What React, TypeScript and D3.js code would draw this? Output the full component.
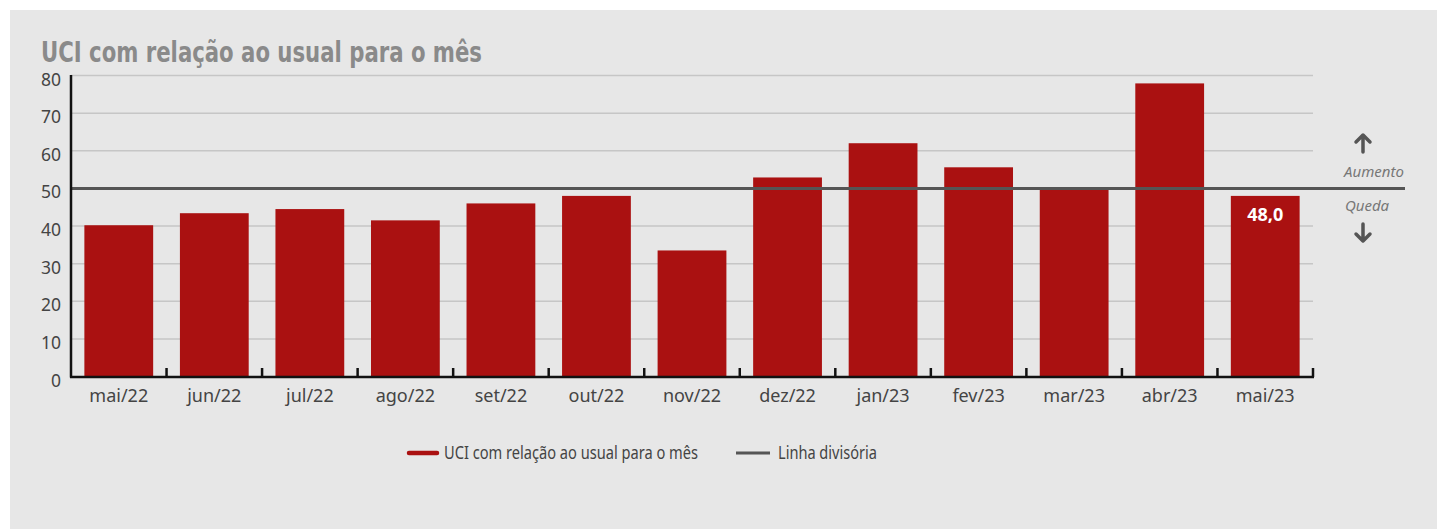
import * as d3 from "d3";

const months = [
  "mai/22", "jun/22", "jul/22", "ago/22", "set/22", "out/22", "nov/22",
  "dez/22", "jan/23", "fev/23", "mar/23", "abr/23", "mai/23",
];
const uciValues = [40.2, 43.4, 44.5, 41.5, 46.0, 48.0, 33.5, 52.9, 62.0, 55.6, 50.1, 77.9, 48.0];
const yTicks = [0, 10, 20, 30, 40, 50, 60, 70, 80];
const dividerValue = 50;

const title = "UCI com relação ao usual para o mês";
const legendItems = ["UCI com relação ao usual para o mês", "Linha divisória"];

const W = 1437;
const H = 529;
const RED = "#aa1111";
const font = "'Noto Sans', sans-serif";

const App = () => {
  const x = d3.scaleBand().domain(months).range([71, 1313]).paddingInner(0.28).paddingOuter(0.14);
  const y = d3.scaleLinear().domain([0, 80]).range([376.5, 75.5]);
  const step = x.step();
  const boundaries = months.map((_, i) => 71 + step * (i + 1));
  const last = months[months.length - 1];

  return (
    <div style={{ position: "fixed", left: 0, top: 0 }}>
      <svg width={W} height={H} style={{ display: "block" }}>
        <rect x={0} y={0} width={W} height={H} fill="#ffffff" />
        <rect x={10} y={10} width={W - 10} height={H - 10} fill="#e7e7e7" />

        <text
          x={41}
          y={62}
          fontFamily="'Liberation Sans Narrow', 'DejaVu Sans Condensed', sans-serif"
          fontWeight="bold"
          fontSize={29}
          fill="#8a8a8a"
          textLength={441}
          lengthAdjust="spacingAndGlyphs"
        >
          {title}
        </text>

        {/* gridlines */}
        {yTicks.filter((t) => t > 0).map((t) => (
          <line key={t} x1={71} x2={1313} y1={y(t)} y2={y(t)} stroke="#c6c6c6" strokeWidth={1.5} />
        ))}

        {/* y labels */}
        {yTicks.map((t) => (
          <text key={t} x={61} y={y(t) + 10} textAnchor="end" fontFamily={font} fontSize={17.5} fill="#444">
            {t}
          </text>
        ))}

        {/* bars */}
        {months.map((m, i) => (
          <rect
            key={m}
            x={x(m)}
            y={y(uciValues[i])}
            width={x.bandwidth()}
            height={y(0) - y(uciValues[i])}
            fill={RED}
          />
        ))}

        {/* divider */}
        <line x1={71} x2={1405} y1={y(dividerValue)} y2={y(dividerValue)} stroke="#555" strokeWidth={3} />

        {/* axes */}
        <line x1={71} x2={71} y1={75} y2={377.5} stroke="#111" strokeWidth={2.5} />
        <line x1={70} x2={1314} y1={377} y2={377} stroke="#111" strokeWidth={2.5} />
        {boundaries.map((b, i) => (
          <line key={i} x1={b} x2={b} y1={368} y2={377} stroke="#111" strokeWidth={2.5} />
        ))}

        {/* x labels */}
        {months.map((m) => (
          <text
            key={m}
            x={(x(m) ?? 0) + x.bandwidth() / 2}
            y={402}
            textAnchor="middle"
            fontFamily={font}
            fontSize={18}
            fill="#444"
          >
            {m}
          </text>
        ))}

        {/* value label for last bar */}
        <text
          x={(x(last) ?? 0) + x.bandwidth() / 2}
          y={y(uciValues[uciValues.length - 1]) + 25}
          textAnchor="middle"
          fontFamily={font}
          fontWeight="bold"
          fontSize={18}
          fill="#ffffff"
        >
          {uciValues[uciValues.length - 1].toFixed(1).replace(".", ",")}
        </text>

        {/* aumento / queda */}
        <g stroke="#555" strokeWidth={3.5} fill="none" strokeLinecap="round" strokeLinejoin="round">
          <path d="M1363,152 L1363,135 M1356,142 L1363,135 L1370,142" />
          <path d="M1363,224 L1363,241 M1356,234 L1363,241 L1370,234" />
        </g>
        <text x={1374} y={177} textAnchor="middle" fontFamily={font} fontStyle="italic" fontSize={15} fill="#777">
          Aumento
        </text>
        <text x={1367} y={211} textAnchor="middle" fontFamily={font} fontStyle="italic" fontSize={15} fill="#777">
          Queda
        </text>

        {/* legend */}
        <line x1={409} x2={437} y1={453} y2={453} stroke={RED} strokeWidth={4.5} strokeLinecap="round" />
        <text x={444} y={459} fontFamily={font} fontSize={18} fill="#444" textLength={254} lengthAdjust="spacingAndGlyphs">
          {legendItems[0]}
        </text>
        <line x1={736} x2={770} y1={453} y2={453} stroke="#555" strokeWidth={3} />
        <text x={778} y={459} fontFamily={font} fontSize={18} fill="#444" textLength={99} lengthAdjust="spacingAndGlyphs">
          {legendItems[1]}
        </text>
      </svg>
    </div>
  );
};

export default App;
